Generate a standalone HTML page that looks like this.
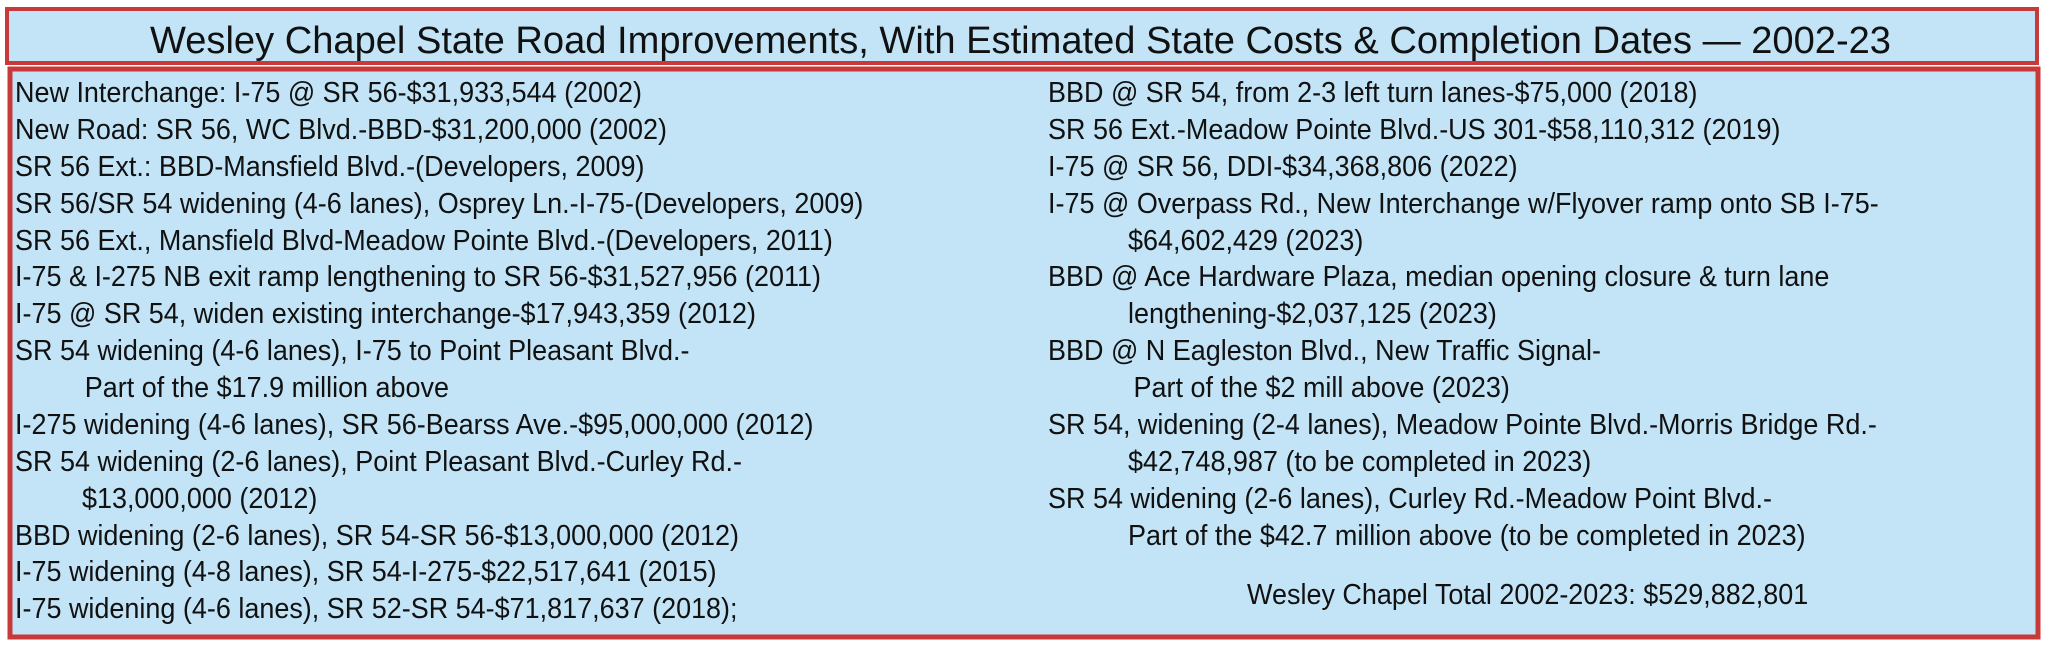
<!DOCTYPE html>
<html><head><meta charset="utf-8"><style>
html,body{margin:0;padding:0;background:#fff;width:2048px;height:649px;overflow:hidden}
svg{display:block}
text{font-family:"Liberation Sans",sans-serif;fill:#111}
</style></head><body>
<svg width="2048" height="649" viewBox="0 0 2048 649">
<rect x="7" y="9" width="2030" height="54" fill="#c2e4f6" stroke="#c83a3a" stroke-width="4"/>
<rect x="10" y="69" width="2028" height="568" fill="#c2e4f6" stroke="#c83a3a" stroke-width="5"/>
<text x="150" y="53" font-size="38" textLength="1741" lengthAdjust="spacingAndGlyphs">Wesley Chapel State Road Improvements, With Estimated State Costs &amp; Completion Dates — 2002-23</text>
<g font-size="29" transform="translate(15,0) scale(0.93,1)">
<text x="0" y="102">New Interchange: I-75 @ SR 56-$31,933,544 (2002)</text>
<text x="0" y="139">New Road: SR 56, WC Blvd.-BBD-$31,200,000 (2002)</text>
<text x="0" y="176">SR 56 Ext.: BBD-Mansfield Blvd.-(Developers, 2009)</text>
<text x="0" y="213">SR 56/SR 54 widening (4-6 lanes), Osprey Ln.-I-75-(Developers, 2009)</text>
<text x="0" y="250">SR 56 Ext., Mansfield Blvd-Meadow Pointe Blvd.-(Developers, 2011)</text>
<text x="0" y="286">I-75 &amp; I-275 NB exit ramp lengthening to SR 56-$31,527,956 (2011)</text>
<text x="0" y="323">I-75 @ SR 54, widen existing interchange-$17,943,359 (2012)</text>
<text x="0" y="360">SR 54 widening (4-6 lanes), I-75 to Point Pleasant Blvd.-</text>
<text x="75" y="397">Part of the $17.9 million above</text>
<text x="0" y="434">I-275 widening (4-6 lanes), SR 56-Bearss Ave.-$95,000,000 (2012)</text>
<text x="0" y="471">SR 54 widening (2-6 lanes), Point Pleasant Blvd.-Curley Rd.-</text>
<text x="72" y="508">$13,000,000 (2012)</text>
<text x="0" y="545">BBD widening (2-6 lanes), SR 54-SR 56-$13,000,000 (2012)</text>
<text x="0" y="581">I-75 widening (4-8 lanes), SR 54-I-275-$22,517,641 (2015)</text>
<text x="0" y="618">I-75 widening (4-6 lanes), SR 52-SR 54-$71,817,637 (2018);</text>
</g>
<g font-size="29" transform="translate(1048,0) scale(0.93,1)">
<text x="0" y="102">BBD @ SR 54, from 2-3 left turn lanes-$75,000 (2018)</text>
<text x="0" y="139">SR 56 Ext.-Meadow Pointe Blvd.-US 301-$58,110,312 (2019)</text>
<text x="0" y="176">I-75 @ SR 56, DDI-$34,368,806 (2022)</text>
<text x="0" y="213">I-75 @ Overpass Rd., New Interchange w/Flyover ramp onto SB I-75-</text>
<text x="86" y="250">$64,602,429 (2023)</text>
<text x="0" y="286">BBD @ Ace Hardware Plaza, median opening closure &amp; turn lane</text>
<text x="86" y="323">lengthening-$2,037,125 (2023)</text>
<text x="0" y="360">BBD @ N Eagleston Blvd., New Traffic Signal-</text>
<text x="92" y="397">Part of the $2 mill above (2023)</text>
<text x="0" y="434">SR 54, widening (2-4 lanes), Meadow Pointe Blvd.-Morris Bridge Rd.-</text>
<text x="86" y="471">$42,748,987 (to be completed in 2023)</text>
<text x="0" y="508">SR 54 widening (2-6 lanes), Curley Rd.-Meadow Point Blvd.-</text>
<text x="86" y="545">Part of the $42.7 million above (to be completed in 2023)</text>
<text x="214" y="604">Wesley Chapel Total 2002-2023: $529,882,801</text>
</g>
</svg>
</body></html>
